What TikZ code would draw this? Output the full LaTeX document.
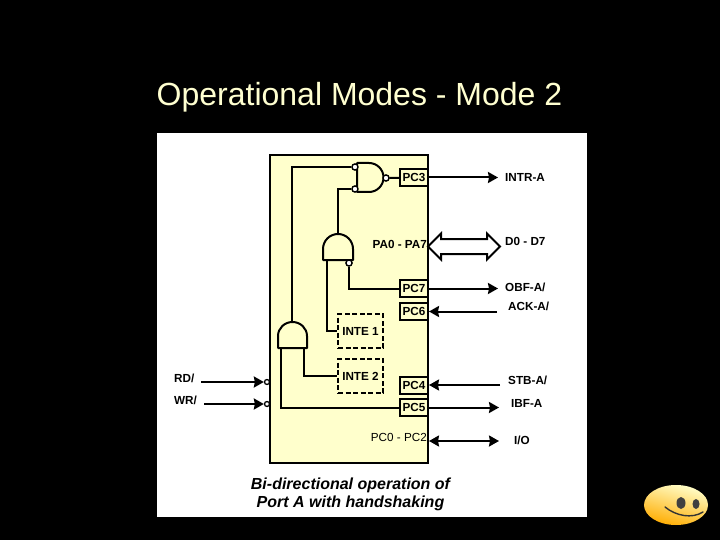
\documentclass[tikz,border=0pt]{standalone}
\usepackage{fontspec}
\setmainfont{Liberation Sans}
\usetikzlibrary{arrows.meta, shapes.arrows}
\definecolor{chipyellow}{HTML}{FFFFCC}
\definecolor{titleyellow}{HTML}{FFFFD0}

\begin{document}
\begin{tikzpicture}[
    x=1pt, y=-1pt,
    font=\fontsize{11.7pt}{13pt}\selectfont\bfseries,
    every node/.style={align=center},
    port/.style={draw, line width=2pt, fill=chipyellow, minimum width=28pt, minimum height=17pt, inner sep=0pt},
    inte/.style={draw, line width=1.8pt, dashed, dash pattern=on 5pt off 2.5pt, minimum width=45pt, minimum height=34pt, inner sep=0pt},
    pin/.style={anchor=west, inner sep=0pt},
    bubble/.style={circle, draw, line width=1.3pt, fill=white, minimum size=6pt, inner sep=0pt},
    wire/.style={line width=2pt},
    gate/.style={line width=2pt, fill=chipyellow, line join=round},
    arrow/.style={line width=2pt, -{Stealth[inset=1pt, length=10pt, width=11pt]}},
    both/.style={line width=2pt, {Stealth[inset=1pt, length=10pt, width=11pt]}-{Stealth[inset=1pt, length=10pt, width=11pt]}},
]

% --- Slide and panel
\fill[black] (0,0) rectangle (720,540);
\fill[white] (157,133) rectangle (587,517);
\node[text=titleyellow, font=\fontsize{32pt}{34pt}\selectfont] (title) at (359.5,97) {Operational Modes - Mode 2};
\node[draw, line width=2.2pt, fill=chipyellow, minimum width=158pt, minimum height=308pt, inner sep=0pt] (chip) at (349,309) {};

% --- Ports on the right edge
\node[port] (pc3) at (414,177.5) {PC3};
\node[port] (pc7) at (414,288.5) {PC7};
\node[port] (pc6) at (414,311.5) {PC6};
\node[port] (pc4) at (414,385) {PC4};
\node[port] (pc5) at (414,407.5) {PC5};
\node[anchor=east, inner sep=0pt] (pa) at (427,244) {PA0 - PA7};
\node[anchor=east, inner sep=0pt, font=\fontsize{11.7pt}{13pt}\selectfont] (pcl) at (427,437) {PC0 - PC2};

% --- Latches
\node[inte] (inte1) at (360.5,331) {INTE 1};
\node[inte] (inte2) at (360.5,376) {INTE 2};

% --- Gate pins
\coordinate (nandbody) at (357,163);
\coordinate (and2out) at (338,234);
\coordinate (and2a) at (327,260);
\coordinate (and3out) at (292,322);
\coordinate (and3a) at (281,348);
\coordinate (and3b) at (304,348);
\node[bubble] (nandtop) at (355,167) {};
\node[bubble] (nandbot) at (355,189) {};
\node[bubble] (nandout) at (386,178) {};
\node[bubble] (and2b) at (349,263) {};

% --- Wires inside the chip
\draw[wire] (nandtop) -| (and3out);
\draw[wire] (nandbot) -| (and2out);
\draw[wire] (nandout) -- (pc3);
\draw[wire] (and2b) |- (pc7);
\draw[wire] (and2a) |- (inte1);
\draw[wire] (and3b) |- (inte2);
\draw[wire] (and3a) |- (pc5);

% --- Gates
\draw[gate] (nandbody) -- (369,163) arc[start angle=-90, end angle=90, radius=14.5] -- (357,192) -- cycle;
\draw[gate] (323,260) -- (323,249) arc[start angle=180, end angle=360, x radius=15, y radius=15] -- (353,260) -- cycle;
\draw[gate] (278,348) -- (278,336) arc[start angle=180, end angle=360, x radius=14.5, y radius=14] -- (307,348) -- cycle;
\node[bubble] at (nandtop) {};
\node[bubble] at (nandbot) {};
\node[bubble] at (nandout) {};
\node[bubble] at (and2b) {};

% --- Signals on the right
\node[pin] (intr) at (505,177) {INTR-A};
\node[pin] (dbus) at (505,241) {D0 - D7};
\node[pin] (obf)  at (505,287) {OBF-A/};
\node[pin] (ack)  at (508,306) {ACK-A/};
\node[pin] (stb)  at (508,380) {STB-A/};
\node[pin] (ibf)  at (511,403) {IBF-A};
\node[pin] (io)   at (514,440) {I/O};
\coordinate (intrend) at (498,177.5);
\coordinate (obfend)  at (498,288.5);
\coordinate (ackend)  at (497,311.5);
\coordinate (stbend)  at (500,385);
\coordinate (ibfend)  at (499,407.5);
\coordinate (ioend)   at (499,441);
\coordinate (iostart) at (429,441);

\draw[arrow] (pc3) -- (intrend);
\draw[arrow] (pc7) -- (obfend);
\draw[arrow] (ackend) -- (pc6);
\draw[arrow] (stbend) -- (pc4);
\draw[arrow] (pc5) -- (ibfend);
\draw[both] (iostart) -- (ioend);
\node[double arrow, draw, line width=2pt, fill=white, minimum height=72pt, double arrow head extend=5.5pt, double arrow tip angle=90, inner sep=6.5pt] (bus) at (464,246.5) {};

% --- Signals on the left
\node[pin] (rd) at (174,378) {RD/};
\node[pin] (wr) at (174,400) {WR/};
\coordinate (rdstart) at (201,382);
\coordinate (wrstart) at (204,404);
\node[bubble, minimum size=5pt] (rdin) at (267,382) {};
\node[bubble, minimum size=5pt] (wrin) at (267,404) {};
\draw[arrow] (rdstart) -- (rdin);
\draw[arrow] (wrstart) -- (wrin);

% --- Caption
\node[font=\fontsize{16pt}{18pt}\selectfont\bfseries\itshape] (caption) at (350.5,494) {Bi-directional operation of\\Port A with handshaking};

% --- Smiley
\shade[top color=yellow!20!white, middle color=yellow!70!orange, bottom color=orange!65!yellow, shading angle=-15] (676,505) ellipse[x radius=32, y radius=20];
\fill[black!75] (681,503) ellipse[x radius=4.5, y radius=6];
\fill[black!75] (696,504) ellipse[x radius=3.5, y radius=5];
\draw[line width=1.4pt, black!80, line cap=round] (665,507) .. controls (676,516) and (692,519) .. (703,512);
\end{tikzpicture}
\end{document}
